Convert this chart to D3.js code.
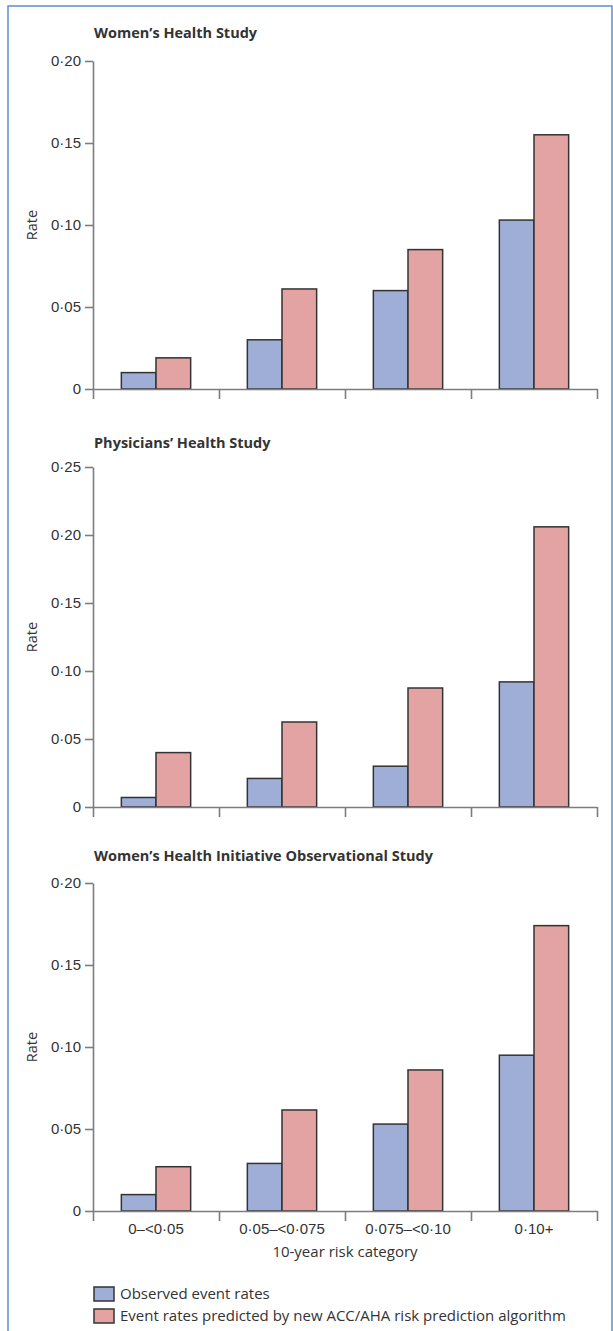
<!DOCTYPE html>
<html>
<head>
<meta charset="utf-8">
<script src="https://cdn.jsdelivr.net/npm/d3@7"></script>
<style>
  body { margin: 0; background: #fff; }
  svg { display: block; font-family: "Open Sans", sans-serif; }
  .axis path, .axis line { stroke: #7d7d7d; stroke-width: 1.6; }
  .axis text { fill: #333; font-size: 15px; }
</style>
</head>
<body>
<div id="container"></div>
<script>
'use strict';

const width = 613,
      height = 1331;

// data
const categories = ["0–<0·05", "0·05–<0·075", "0·075–<0·10", "0·10+"];
const series = ["Observed event rates", "Event rates predicted by new ACC/AHA risk prediction algorithm"];
const titles = ["Women’s Health Study", "Physicians’ Health Study", "Women’s Health Initiative Observational Study"];
const yTicks = [
  [0, 0.05, 0.10, 0.15, 0.20],
  [0, 0.05, 0.10, 0.15, 0.20, 0.25],
  [0, 0.05, 0.10, 0.15, 0.20]
];
const observed = [
  [0.010, 0.030, 0.060, 0.103],
  [0.007, 0.021, 0.030, 0.092],
  [0.010, 0.029, 0.053, 0.095]
];
const predicted = [
  [0.019, 0.061, 0.085, 0.155],
  [0.040, 0.0625, 0.0875, 0.206],
  [0.027, 0.0616, 0.086, 0.174]
];
const colors = ["#9eaed6", "#e3a3a2"];

// layout of the three panels (top tick y, zero y, title baseline)
const panels = [
  {top: 61, bottom: 389, titleY: 38},
  {top: 467, bottom: 807, titleY: 448},
  {top: 883, bottom: 1211, titleY: 861}
];
const left = 93, right = 597;

const fmt = d => d === 0 ? "0" : d3.format(".2f")(d).replace(".", "·");

const svg = d3.select("#container")
  .append("svg")
  .attr("width", width)
  .attr("height", height);

// blue frame
svg.append("path")
  .attr("d", `M8,${height}V6H612V${height}`)
  .attr("fill", "none")
  .attr("stroke", "#5b8fcf")
  .attr("stroke-width", 1.5);

const xScale = d3.scaleBand()
  .domain(categories)
  .range([left, right]);

const bw = xScale.bandwidth();
const xSub = d3.scaleBand()
  .domain([0, 1])
  .range([bw * 0.225, bw * 0.775]);

const xEdge = d3.scaleLinear()
  .domain([0, categories.length])
  .range([left, right]);

panels.forEach((p, i) => {
  const yMax = yTicks[i][yTicks[i].length - 1];
  const yScale = d3.scaleLinear()
    .domain([0, yMax])
    .range([p.bottom, p.top]);

  const g = svg.append("g");

  g.append("text")
    .attr("x", 94)
    .attr("y", p.titleY)
    .attr("font-weight", "bold")
    .attr("font-size", 14.5)
    .attr("fill", "#333")
    .text(titles[i]);

  g.append("text")
    .attr("transform", `translate(37, ${(p.top + p.bottom) / 2}) rotate(-90)`)
    .attr("text-anchor", "middle")
    .attr("font-size", 14.5)
    .attr("fill", "#333")
    .text("Rate");

  // bars
  const rows = categories.map((c, j) => ({c, vals: [observed[i][j], predicted[i][j]]}));
  g.selectAll(".grp")
    .data(rows)
    .join("g")
    .attr("class", "grp")
    .attr("transform", d => `translate(${xScale(d.c)},0)`)
    .selectAll("rect")
    .data(d => d.vals)
    .join("rect")
    .attr("x", (d, k) => xSub(k))
    .attr("width", xSub.bandwidth())
    .attr("y", d => yScale(d))
    .attr("height", d => p.bottom - yScale(d))
    .attr("fill", (d, k) => colors[k])
    .attr("stroke", "#333")
    .attr("stroke-width", 1.5);

  // x axis with category boundary ticks
  g.append("g")
    .attr("class", "axis x-axis")
    .attr("transform", `translate(0, ${p.bottom})`)
    .call(d3.axisBottom(xEdge)
      .tickValues(d3.range(categories.length + 1))
      .tickSize(10)
      .tickSizeOuter(0)
      .tickFormat(""));

  g.append("g")
    .attr("class", "axis y-axis")
    .attr("transform", `translate(${left}, 0)`)
    .call(d3.axisLeft(yScale)
      .tickValues(yTicks[i])
      .tickSize(8)
      .tickSizeOuter(0)
      .tickPadding(4)
      .tickFormat(fmt));

  if (i === panels.length - 1) {
    g.append("g")
      .attr("class", "axis x-labels")
      .attr("transform", `translate(0, ${p.bottom})`)
      .call(d3.axisBottom(xScale).tickSize(0).tickPadding(12))
      .call(a => a.select(".domain").remove());

    g.append("text")
      .attr("x", (left + right) / 2)
      .attr("y", 1257)
      .attr("text-anchor", "middle")
      .attr("font-size", 15)
      .attr("fill", "#333")
      .text("10-year risk category");
  }
});

// legend
const legend = svg.append("g")
  .selectAll("g")
  .data(series)
  .join("g")
  .attr("transform", (d, k) => `translate(94, ${1287 + k * 22})`);

legend.append("rect")
  .attr("width", 20)
  .attr("height", 14)
  .attr("fill", (d, k) => colors[k])
  .attr("stroke", "#333")
  .attr("stroke-width", 1.5);

legend.append("text")
  .attr("x", 26)
  .attr("y", 12)
  .attr("font-size", 15)
  .attr("fill", "#333")
  .text(d => d);
</script>
</body>
</html>
